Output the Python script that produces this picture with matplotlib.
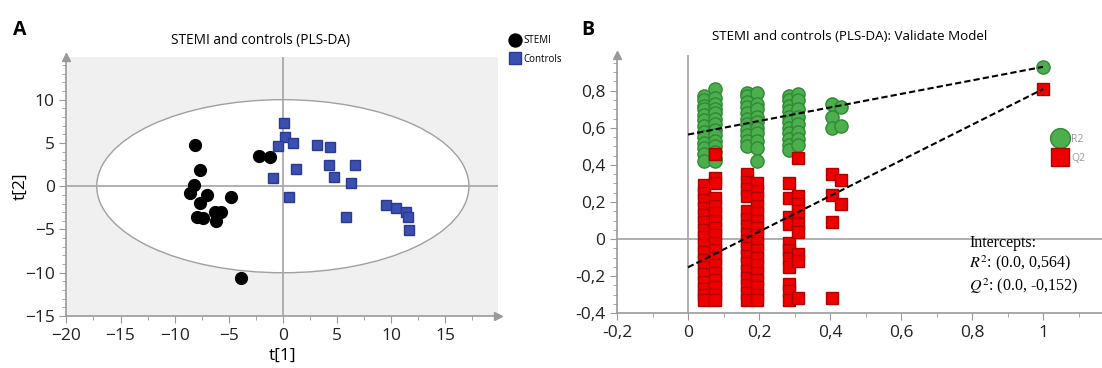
import matplotlib.pyplot as plt
from matplotlib.patches import Ellipse
from matplotlib.ticker import MultipleLocator, FuncFormatter

plt.rcParams['font.family'] = ['Open Sans', 'DejaVu Sans']
plt.rcParams['mathtext.fontset'] = 'stix'

# ---- panel A: PLS-DA scores ----
stemi_t1 = [-8.1, -2.2, -1.2, -7.7, -8.2, -8.6, -7.0, -4.8, -7.7, -6.3, -5.7, -7.9, -7.4, -6.2, -3.9]
stemi_t2 = [4.8, 3.5, 3.4, 1.9, 0.1, -0.8, -1.0, -1.3, -1.9, -3.0, -3.0, -3.5, -3.7, -4.0, -10.6]
controls_t1 = [0.1, 0.2, -0.4, 0.9, 3.2, 4.4, 1.2, 4.3, 6.7, 4.7, -0.9, 6.3, 0.6, 5.8, 9.5, 10.5, 11.4, 11.6, 11.7]
controls_t2 = [7.3, 5.7, 4.6, 5.0, 4.8, 4.5, 2.0, 2.4, 2.5, 1.1, 0.9, 0.4, -1.3, -3.5, -2.2, -2.5, -3.0, -3.5, -5.1]
ellipse_a, ellipse_b = 17.2, 10.0  # Hotelling T2 semi-axes

# ---- panel B: permutation test (validate model) ----
r2_cols_x = [0.045, 0.075, 0.165, 0.195, 0.285, 0.31, 0.405, 0.43]
r2_cols_y = [
    [0.77, 0.75, 0.72, 0.70, 0.67, 0.64, 0.61, 0.58, 0.55, 0.52, 0.49, 0.46, 0.42],
    [0.81, 0.76, 0.73, 0.70, 0.68, 0.65, 0.62, 0.59, 0.56, 0.53, 0.50, 0.47, 0.44, 0.42],
    [0.79, 0.77, 0.74, 0.71, 0.68, 0.65, 0.62, 0.59, 0.56, 0.53, 0.50],
    [0.79, 0.73, 0.70, 0.66, 0.63, 0.60, 0.57, 0.53, 0.49, 0.42],
    [0.77, 0.75, 0.72, 0.69, 0.66, 0.63, 0.60, 0.57, 0.54, 0.51, 0.48],
    [0.78, 0.75, 0.70, 0.66, 0.62, 0.58, 0.54, 0.51],
    [0.73, 0.66, 0.60],
    [0.71, 0.61],
]
q2_cols_x = [0.045, 0.075, 0.165, 0.195, 0.285, 0.31, 0.405, 0.43]
q2_cols_y = [
    [0.29, 0.25, 0.21, 0.17, 0.13, 0.09, 0.05, 0.01, -0.03, -0.07, -0.11, -0.15, -0.19, -0.23, -0.27, -0.30, -0.33],
    [0.46, 0.33, 0.30, 0.22, 0.18, 0.14, 0.10, 0.06, 0.02, -0.02, -0.06, -0.10, -0.14, -0.18, -0.22, -0.26, -0.30, -0.33],
    [0.35, 0.31, 0.27, 0.23, 0.15, 0.11, 0.07, 0.03, -0.01, -0.05, -0.09, -0.13, -0.17, -0.21, -0.25, -0.29, -0.33],
    [0.30, 0.26, 0.22, 0.18, 0.14, 0.10, 0.06, 0.02, -0.02, -0.06, -0.10, -0.14, -0.18, -0.22, -0.26, -0.30, -0.33],
    [0.30, 0.22, 0.12, 0.08, -0.02, -0.06, -0.10, -0.15, -0.24, -0.28, -0.33],
    [0.44, 0.23, 0.19, 0.15, 0.08, 0.04, -0.08, -0.12, -0.32],
    [0.35, 0.24, 0.09, -0.32],
    [0.32, 0.19],
]
model_x = 1.0
model_r2 = 0.929
model_q2 = 0.809
r2_intercept = 0.564
q2_intercept = -0.152

AXIS_GRAY = '#9a9a9a'
GREEN = '#4cae4c'
RED = '#ee0000'
BLUE = '#3b4fb0'

fig = plt.figure(figsize=(11.02, 3.68), dpi=100)


def style_axes(ax):
    for s in ['top', 'right']:
        ax.spines[s].set_visible(False)
    for s in ['left', 'bottom']:
        ax.spines[s].set_color(AXIS_GRAY)
        ax.spines[s].set_linewidth(1.2)
    ax.tick_params(which='both', direction='out', color=AXIS_GRAY, labelsize=12.5,
                   labelcolor='#222222')
    ax.tick_params(which='major', length=5)
    ax.tick_params(which='minor', length=3)


# ================= Panel A =================
axA = fig.add_axes([0.0603, 0.1413, 0.3917, 0.703])
axA.set_facecolor('#f0f0f0')
axA.set_xlim(-20, 19.9)
axA.set_ylim(-15, 14.9)
style_axes(axA)
axA.add_patch(Ellipse((0, 0), 2 * ellipse_a, 2 * ellipse_b, facecolor='white',
                      edgecolor='#a0a0a0', linewidth=1.0, zorder=1))
axA.axhline(0, color='#aaaaaa', linewidth=1.3, zorder=2)
axA.axvline(0, color='#aaaaaa', linewidth=1.3, zorder=2)
axA.plot(stemi_t1, stemi_t2, 'o', color='black', markersize=8.5, zorder=3, label='STEMI')
axA.plot(controls_t1, controls_t2, 's', color=BLUE, markeredgecolor='#2a3a90',
         markersize=7.5, zorder=3, label='Controls')
axA.xaxis.set_minor_locator(MultipleLocator(2.5))
axA.yaxis.set_minor_locator(MultipleLocator(1))
axA.set_xticks(range(-20, 16, 5))
axA.set_yticks(range(-15, 11, 5))
axA.plot(1, 0, '>', color=AXIS_GRAY, markersize=6, transform=axA.transAxes, clip_on=False)
axA.plot(0, 1, '^', color=AXIS_GRAY, markersize=6, transform=axA.transAxes, clip_on=False)
axA.set_xlabel('t[1]', fontsize=12.5, labelpad=3)
axA.set_ylabel('t[2]', fontsize=12.5, labelpad=-3)
axA.text(0.449, 1.065, 'STEMI and controls (PLS-DA)', transform=axA.transAxes,
         fontsize=9.8, ha='center', va='center')
axA.legend(loc='upper left', bbox_to_anchor=(1.02, 1.10), frameon=False, fontsize=7,
           handletextpad=0.3, labelspacing=0.75, borderaxespad=0, handlelength=1.0,
           markerscale=1.1)
fig.text(0.012, 0.905, 'A', fontsize=14, fontweight='bold')

# ================= Panel B =================
axB = fig.add_axes([0.5599, 0.1486, 0.4401, 0.702])
axB.set_xlim(-0.2, 1.166)
axB.set_ylim(-0.4, 0.993)
style_axes(axB)
axB.axhline(0, color='#aaaaaa', linewidth=1.3, zorder=1)
axB.axvline(0, color='#aaaaaa', linewidth=1.3, zorder=1)

for cx, ys in zip(r2_cols_x, r2_cols_y):
    axB.plot([cx] * len(ys), ys, 'o', color=GREEN, markeredgecolor='#2f8a35',
             markersize=9.5, zorder=3)
for cx, ys in zip(q2_cols_x, q2_cols_y):
    axB.plot([cx] * len(ys), ys, 's', color=RED, markeredgecolor='#b00000',
             markersize=9, zorder=4)
axB.plot(model_x, model_r2, 'o', color=GREEN, markeredgecolor='#2f8a35', markersize=9.5,
         zorder=3, label='R2')
axB.plot(model_x, model_q2, 's', color=RED, markeredgecolor='#b00000', markersize=9,
         zorder=4, label='Q2')
axB.plot([0, model_x], [r2_intercept, model_r2], '--', color='black', linewidth=1.5,
         dashes=(3, 1.5), zorder=5)
axB.plot([0, model_x], [q2_intercept, model_q2], '--', color='black', linewidth=1.5,
         dashes=(3, 1.5), zorder=5)

axB.set_xticks([-0.2, 0, 0.2, 0.4, 0.6, 0.8, 1.0])
axB.set_yticks([-0.4, -0.2, 0, 0.2, 0.4, 0.6, 0.8])
axB.xaxis.set_minor_locator(MultipleLocator(0.1))
axB.yaxis.set_minor_locator(MultipleLocator(0.05))
comma = FuncFormatter(lambda v, p: ('%g' % round(v, 2)).replace('.', ','))
axB.xaxis.set_major_formatter(comma)
axB.yaxis.set_major_formatter(comma)
axB.plot(0, 1, '^', color=AXIS_GRAY, markersize=6, transform=axB.transAxes, clip_on=False)
axB.text(0.48, 1.07, 'STEMI and controls (PLS-DA): Validate Model', transform=axB.transAxes,
         fontsize=9.6, ha='center', va='center')

legB = axB.legend(loc='upper left', bbox_to_anchor=(0.892, 0.71), frameon=False, fontsize=7.5,
                  handletextpad=0.5, labelspacing=0.75, borderaxespad=0, handlelength=1.2,
                  markerscale=1.5)
for t in legB.get_texts():
    t.set_color('#999999')

axB.text(0.726, 0.305, 'Intercepts:\n$R^2$: (0.0, 0,564)\n$Q^2$: (0.0, -0,152)',
         transform=axB.transAxes, fontsize=11.5, family='Liberation Serif',
         va='top', ha='left', linespacing=1.2)
fig.text(0.527, 0.905, 'B', fontsize=14, fontweight='bold')

plt.savefig('out.png', dpi=100)
